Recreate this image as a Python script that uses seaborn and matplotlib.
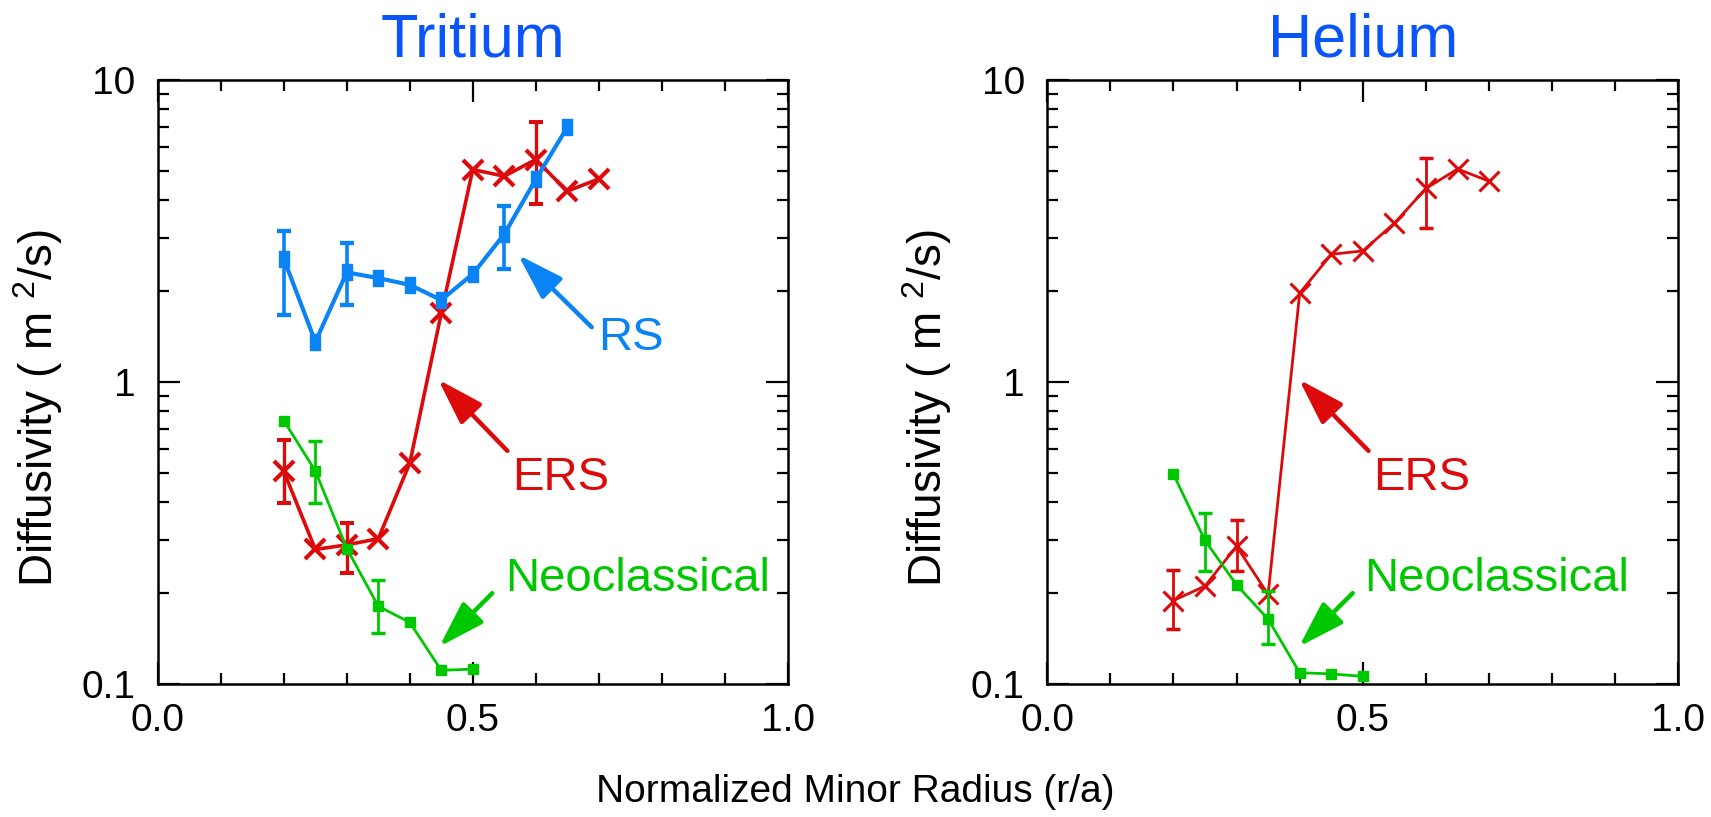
import numpy as np
import pandas as pd
import matplotlib
matplotlib.use('Agg')
import matplotlib.pyplot as plt
import seaborn as sns
from matplotlib.ticker import LogLocator, MultipleLocator, FixedLocator, NullFormatter, FixedFormatter

# ---- data ----
radius_rs = [0.2, 0.25, 0.3, 0.35, 0.4, 0.45, 0.5, 0.55, 0.6, 0.65]
radius_ers = [0.2, 0.25, 0.3, 0.35, 0.4, 0.45, 0.5, 0.55, 0.6, 0.65, 0.7]
radius_neo = [0.2, 0.25, 0.3, 0.35, 0.4, 0.45, 0.5]

# Tritium
t_rs = [2.56, 1.36, 2.31, 2.21, 2.10, 1.87, 2.28, 3.09, 4.69, 6.98]
t_rs_err_r = [0.2, 0.3, 0.55]
t_rs_err_lo = [1.67, 1.80, 2.37]
t_rs_err_hi = [3.17, 2.90, 3.83]

t_ers = [0.506, 0.279, 0.289, 0.303, 0.539, 1.69, 5.06, 4.81, 5.46, 4.29, 4.71]
t_ers_err_r = [0.2, 0.3, 0.6]
t_ers_err_lo = [0.397, 0.233, 3.88]
t_ers_err_hi = [0.644, 0.341, 7.29]

t_neo = [0.745, 0.508, 0.281, 0.181, 0.160, 0.111, 0.112]
t_neo_err_r = [0.25, 0.35]
t_neo_err_lo = [0.397, 0.148]
t_neo_err_hi = [0.636, 0.221]

# Helium
h_ers = [0.189, 0.211, 0.286, 0.198, 1.97, 2.65, 2.72, 3.36, 4.38, 5.08, 4.63]
h_ers_err_r = [0.2, 0.3, 0.6]
h_ers_err_lo = [0.152, 0.236, 3.23]
h_ers_err_hi = [0.239, 0.348, 5.51]

h_neo = [0.496, 0.299, 0.213, 0.164, 0.109, 0.108, 0.106]
h_neo_err_r = [0.25, 0.35]
h_neo_err_lo = [0.236, 0.136]
h_neo_err_hi = [0.368, 0.203]

BLUE = '#0a84f5'
RED = '#dc0a0a'
GREEN = '#00c800'
TITLE = '#0a55fa'

sns.set_style('ticks')
plt.rcParams['font.family'] = ['Liberation Sans', 'DejaVu Sans']
plt.rcParams['mathtext.fontset'] = 'custom'
plt.rcParams['mathtext.rm'] = 'Liberation Sans'
plt.rcParams['mathtext.it'] = 'Liberation Sans:italic'
plt.rcParams['text.color'] = 'black'
plt.rcParams['axes.labelcolor'] = 'black'

fig = plt.figure(figsize=(17.11, 8.17), dpi=100)
ax1 = fig.add_axes([0.0923, 0.1628, 0.368, 0.739])
ax2 = fig.add_axes([0.612, 0.1628, 0.369, 0.739])

tall_box = [(-0.6, -1), (0.6, -1), (0.6, 1), (-0.6, 1), (-0.6, -1)]


def series(ax, r, d, color, marker, lw, ms, mew):
    df = pd.DataFrame({'r': r, 'D': d})
    sns.lineplot(data=df, x='r', y='D', ax=ax, sort=False, estimator=None,
                 color=color, lw=lw, marker=marker, ms=ms,
                 markeredgecolor=color, markerfacecolor=color,
                 markeredgewidth=mew)


def errbars(ax, r, d, er, lo, hi, color, elw):
    mid = np.array([d[r.index(x)] for x in er])
    ax.errorbar(er, mid, yerr=[mid - np.array(lo), np.array(hi) - mid],
                fmt='none', ecolor=color, elinewidth=elw, capsize=5,
                capthick=elw + 0.5)


def arrow(ax, head, tail, color):
    ax.annotate('', xy=head, xytext=tail,
                arrowprops=dict(arrowstyle='-|>,head_length=0.95,head_width=0.3',
                                color=color, lw=3.2, mutation_scale=30,
                                shrinkA=0, shrinkB=0))


LBL = 34

# Tritium panel
series(ax1, radius_ers, t_ers, RED, 'x', 2.6, 14, 3.0)
errbars(ax1, radius_ers, t_ers, t_ers_err_r, t_ers_err_lo, t_ers_err_hi, RED, 2.4)
series(ax1, radius_neo, t_neo, GREEN, 's', 2.0, 7.5, 1)
errbars(ax1, radius_neo, t_neo, t_neo_err_r, t_neo_err_lo, t_neo_err_hi, GREEN, 2.0)
series(ax1, radius_rs, t_rs, BLUE, tall_box, 3.0, 12, 1)
errbars(ax1, radius_rs, t_rs, t_rs_err_r, t_rs_err_lo, t_rs_err_hi, BLUE, 2.6)

arrow(ax1, (0.572, 2.64), (0.689, 1.52), BLUE)
ax1.text(0.699, 1.40, 'RS', color=BLUE, fontsize=LBL, ha='left', va='center')
arrow(ax1, (0.445, 1.02), (0.555, 0.592), RED)
ax1.text(0.562, 0.481, 'ERS', color=RED, fontsize=LBL, ha='left', va='center')
arrow(ax1, (0.447, 0.133), (0.531, 0.200), GREEN)
ax1.text(0.551, 0.223, 'Neoclassical', color=GREEN, fontsize=LBL, ha='left', va='center')

# Helium panel
series(ax2, radius_ers, h_ers, RED, 'x', 2.0, 14, 2.2)
errbars(ax2, radius_ers, h_ers, h_ers_err_r, h_ers_err_lo, h_ers_err_hi, RED, 2.0)
series(ax2, radius_neo, h_neo, GREEN, 's', 2.0, 7.5, 1)
errbars(ax2, radius_neo, h_neo, h_neo_err_r, h_neo_err_lo, h_neo_err_hi, GREEN, 2.0)

arrow(ax2, (0.399, 1.02), (0.509, 0.592), RED)
ax2.text(0.516, 0.481, 'ERS', color=RED, fontsize=LBL, ha='left', va='center')
arrow(ax2, (0.399, 0.133), (0.484, 0.200), GREEN)
ax2.text(0.502, 0.223, 'Neoclassical', color=GREEN, fontsize=LBL, ha='left', va='center')

for ax, title in [(ax1, 'Tritium'), (ax2, 'Helium')]:
    ax.set_yscale('log')
    ax.set_xlim(0, 1)
    ax.set_ylim(0.1, 10)
    ax.xaxis.set_major_locator(FixedLocator([0.0, 0.5, 1.0]))
    ax.xaxis.set_major_formatter(FixedFormatter(['0.0', '0.5', '1.0']))
    ax.xaxis.set_minor_locator(MultipleLocator(0.1))
    ax.yaxis.set_major_locator(FixedLocator([0.1, 1, 10]))
    ax.yaxis.set_major_formatter(FixedFormatter(['0.1', '1', '10']))
    ax.yaxis.set_minor_locator(LogLocator(base=10, subs=np.arange(2, 10)))
    ax.yaxis.set_minor_formatter(NullFormatter())
    ax.tick_params(which='both', direction='in', top=True, right=True,
                   width=1.6, colors='black')
    ax.tick_params(which='major', length=16, labelsize=28)
    ax.tick_params(which='minor', length=8)
    ax.tick_params(axis='y', which='major', pad=16)
    ax.tick_params(axis='x', which='major', pad=14)
    for s in ax.spines.values():
        s.set_linewidth(1.8)
        s.set_color('black')
    ax.set_xlabel('')
    ax.set_ylabel('')
    ax.set_title(title, color=TITLE, fontsize=44, pad=17)

fig.text(0.022, 0.50, 'Diffusivity ( m $^{2}$/s)', rotation=90, fontsize=33,
         ha='center', va='center')
fig.text(0.542, 0.50, 'Diffusivity ( m $^{2}$/s)', rotation=90, fontsize=33,
         ha='center', va='center')
fig.text(0.5, 0.03, 'Normalized Minor Radius (r/a)', fontsize=28,
         ha='center', va='center')

fig.savefig('out.png', dpi=100)
